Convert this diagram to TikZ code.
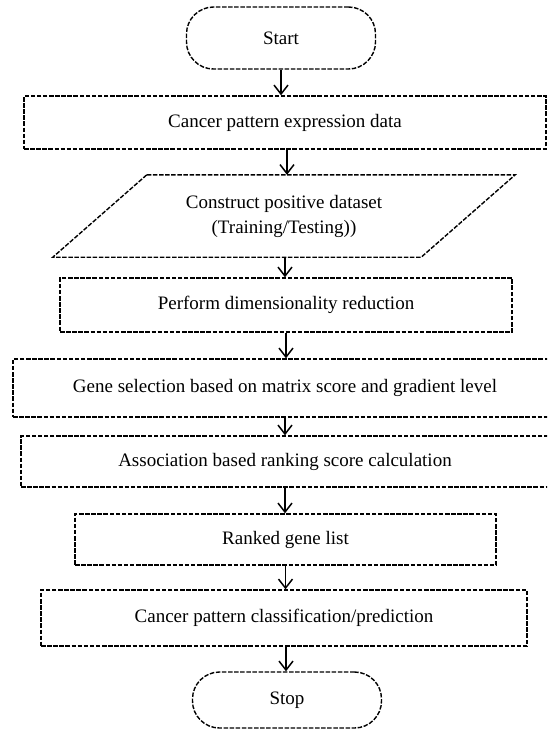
\documentclass[tikz,border=0pt]{standalone}
\usepackage{fontspec}
\setmainfont{Liberation Serif}
\usetikzlibrary{arrows.meta}
\tikzset{
  dsh/.style={draw, line width=1.4pt, dash pattern=on 4.5pt off 1.6pt},
  txt/.style={font=\fontsize{19}{25}\selectfont},
  procbox/.style={dsh, txt, rectangle, inner sep=0pt, align=center},
  termbox/.style={procbox, rounded corners=27pt},
  flow/.style={line width=1.5pt, -{Straight Barb[length=9pt,width=14pt,line width=1.5pt]}}
}
\begin{document}
\begin{tikzpicture}[x=1pt,y=-1pt]
\useasboundingbox (0,0) rectangle (547,731);
\clip (0,0) rectangle (547,731);
\node[termbox, minimum width=189pt, minimum height=62pt] (start) at (281,38) {Start};
\node[procbox, minimum width=522pt, minimum height=53pt] (data) at (285,122.5) {Cancer pattern expression data};
\node[txt, inner sep=0pt, minimum width=368pt, minimum height=82pt, align=center] (para) at (284,216) {Construct positive dataset\\(Training/Testing))};
\draw[dsh] ([xshift=47pt]para.north west) -- ([xshift=47pt]para.north east) -- ([xshift=-47pt]para.south east) -- ([xshift=-47pt]para.south west) -- cycle;
\node[procbox, minimum width=452pt, minimum height=54pt] (dim) at (286,305) {Perform dimensionality reduction};
\node[procbox, minimum width=544pt, minimum height=58pt] (gene) at (285,388) {Gene selection based on matrix score and gradient level};
\node[procbox, minimum width=528pt, minimum height=51pt] (assoc) at (285,461.5) {Association based ranking score calculation};
\node[procbox, minimum width=421pt, minimum height=51pt] (rank) at (285.5,539.5) {Ranked gene list};
\node[procbox, minimum width=486pt, minimum height=56pt] (cls) at (284,618) {Cancer pattern classification/prediction};
\node[termbox, minimum width=189pt, minimum height=56pt] (stop) at (287,700) {Stop};
\draw[flow] (start.south) -- (start.south |- data.north);
\draw[flow] ([xshift=2pt]data.south) -- ([xshift=2pt]data.south |- para.north);
\draw[flow] ([xshift=1pt]para.south) -- ([xshift=1pt]para.south |- dim.north);
\draw[flow] (dim.south) -- (dim.south |- gene.north);
\draw[flow] (gene.south) -- (gene.south |- assoc.north);
\draw[flow] (assoc.south) -- (assoc.south |- rank.north);
\draw[flow] (rank.south) -- (rank.south |- cls.north);
\draw[flow] ([xshift=2pt]cls.south) -- ([xshift=2pt]cls.south |- stop.north);
\end{tikzpicture}
\end{document}
